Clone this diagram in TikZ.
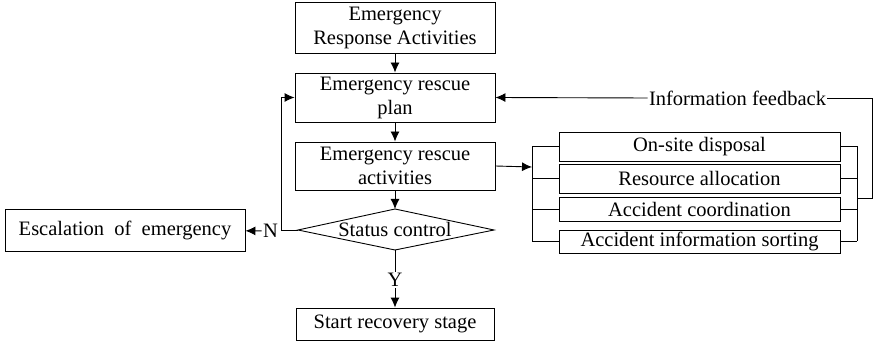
\documentclass[tikz,border=0pt]{standalone}
\usepackage{fontspec}
\setmainfont{Liberation Serif}
\usetikzlibrary{arrows.meta}
\begin{document}
\begin{tikzpicture}[x=1pt,y=-1pt, line width=0.9pt,
 box/.style={draw, inner sep=0pt, align=center, font=\fontsize{20.5}{24}\selectfont},
 lbl/.style={inner sep=1pt, font=\fontsize{20.5}{24}\selectfont},
 arr/.style={-{Latex[length=10pt,width=9pt]}}]
\useasboundingbox (0,0) rectangle (874,352);
% main column
\node[box, minimum width=200, minimum height=51] (era) at (395,27.5) {Emergency\\Response Activities};
\node[box, minimum width=200, minimum height=49] (plan) at (395,97.5) {Emergency rescue\\plan};
\node[box, minimum width=200, minimum height=48] (act) at (395,166) {Emergency rescue\\activities};
\coordinate (dt) at (395,209);
\coordinate (dl) at (298,230);
\coordinate (dr) at (494,230);
\coordinate (db) at (395,250);
\draw (dt) -- (dr) -- (db) -- (dl) -- cycle;
\node[lbl] (sc) at (395,229) {Status control};
\node[box, minimum width=198, minimum height=32] (start) at (395,324) {Start recovery stage};
\node[box, minimum width=240, minimum height=42] (esc) at (125,230) {Escalation \ of \ emergency};
\node[lbl] (N) at (270.5,231) {N};
\node[lbl] (Y) at (395,280) {Y};
% right boxes
\node[box, minimum width=281, minimum height=29] (b1) at (699.5,146.5) {On-site disposal};
\node[box, minimum width=281, minimum height=29] (b2) at (699.5,178.5) {Resource allocation};
\node[box, minimum width=281, minimum height=24] (b3) at (699.5,209) {Accident coordination};
\node[box, minimum width=281, minimum height=23] (b4) at (699.5,241.5) {Accident information sorting};
\node[lbl] (fb) at (737.5,98) {Information feedback};
% coordinates
\coordinate (lc) at (281,230);
\coordinate (bl) at (532,167);
\coordinate (bltop) at (532,146.5);
\coordinate (blbot) at (532,241.5);
\coordinate (brtop) at (857,146.5);
\coordinate (brbot) at (857,241.5);
\coordinate (brm) at (857,198);
\coordinate (rc) at (872,198);
% connectors
\draw[arr] (era) -- (plan);
\draw[arr] (plan) -- (act);
\draw[arr] (act) -- (dt);
\draw (db) -- (Y);
\draw[arr] (Y) -- (start);
\draw[arr] (dl) -- (lc) |- (plan.west);
\draw[arr] (N) -- (esc);
\draw[arr] (act.east) -- (bl);
\draw (bltop) -- (blbot);
\draw (brtop) -- (brbot);
\foreach \b in {b1,b2,b3,b4} {
  \draw (bltop |- \b.west) -- (\b.west);
  \draw (\b.east) -- (brtop |- \b.east);
}
\draw (brm) -- (rc) |- (fb.east);
\draw[arr] (fb.west) -- (plan.east);
\end{tikzpicture}
\end{document}
